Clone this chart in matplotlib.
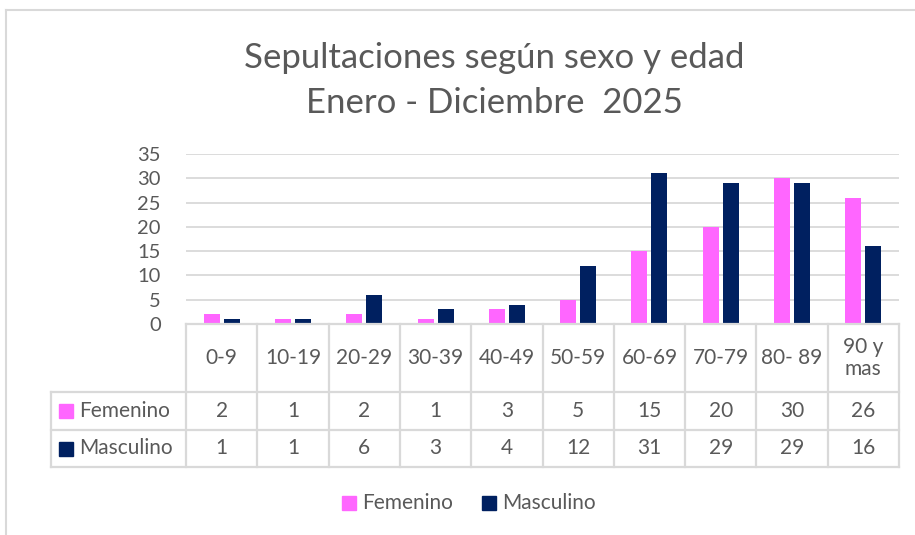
import matplotlib
matplotlib.use("Agg")
import matplotlib.pyplot as plt
from matplotlib.lines import Line2D
from matplotlib.patches import Rectangle

# datos
categorias = ["0-9", "10-19", "20-29", "30-39", "40-49", "50-59",
              "60-69", "70-79", "80- 89", "90 y\nmas"]
femenino = [2, 1, 2, 1, 3, 5, 15, 20, 30, 26]
masculino = [1, 1, 6, 3, 4, 12, 31, 29, 29, 16]
series = ["Femenino", "Masculino"]
colores = ["#FF66FF", "#002060"]
yticks = [0, 5, 10, 15, 20, 25, 30, 35]

W, H = 915, 535
TXT = "#595959"
GRIS = "#D9D9D9"
plt.rcParams['font.family'] = ['Lato', 'DejaVu Sans']

fig = plt.figure(figsize=(W / 100, H / 100), dpi=100)


def fx(x):
    return x / W


def fy(y):
    return 1 - y / H


# borde del grafico (solo arriba e izquierda visibles)
fig.add_artist(Line2D([fx(6), fx(915)], [fy(9.5), fy(9.5)], color=GRIS, lw=1.5))
fig.add_artist(Line2D([fx(6), fx(6)], [fy(9.5), fy(535)], color=GRIS, lw=1.5))

# titulo
fig.text(fx(494), fy(58), "Sepultaciones según sexo y edad", ha="center", va="center",
         fontsize=25, color=TXT)
fig.text(fx(494), fy(103), "Enero - Diciembre  2025", ha="center", va="center",
         fontsize=25, color=TXT)

# eje de barras
x0, x1, ytop, ybot = 186, 899, 154, 324
ax = fig.add_axes([fx(x0), fy(ybot), fx(x1 - x0), (ybot - ytop) / H])
n = len(categorias)
bw = 0.225
gap = 0.055
for i in range(n):
    c = i + 0.5
    ax.bar(c - (bw + gap) / 2, femenino[i], width=bw, color=colores[0], zorder=3)
    ax.bar(c + (bw + gap) / 2, masculino[i], width=bw, color=colores[1], zorder=3)
ax.set_xlim(0, n)
ax.set_ylim(0, 35)
ax.set_yticks(yticks)
ax.set_xticks([])
ax.grid(axis="y", color=GRIS, lw=1.3, zorder=0)
for s in ax.spines.values():
    s.set_visible(False)
ax.tick_params(axis="y", length=0, pad=18, labelsize=14.5, labelcolor=TXT)
for lab in ax.get_yticklabels():
    lab.set_ha("right")

# tabla de datos
tx0, tbot = 51, 467
lab_w = (x0 - tx0) / ((x1 - x0) / n)
tax = fig.add_axes([fx(tx0), fy(tbot), fx(x1 - tx0), (tbot - ybot) / H])
tax.set_xlim(-lab_w, n)
filas = [ybot, 392, 430, 467]
tax.set_ylim(tbot, ybot)
tax.axis("off")
lw = 1.6
# lineas horizontales
tax.plot([0, n], [filas[0], filas[0]], color=GRIS, lw=lw, clip_on=False)
for yy in filas[1:]:
    tax.plot([-lab_w, n], [yy, yy], color=GRIS, lw=lw, clip_on=False)
# lineas verticales
for i in range(n + 1):
    tax.plot([i, i], [filas[0], filas[-1]], color=GRIS, lw=lw, clip_on=False)
tax.plot([-lab_w, -lab_w], [filas[1], filas[-1]], color=GRIS, lw=lw, clip_on=False)

fs = 15
for i, cat in enumerate(categorias):
    tax.text(i + 0.5, (filas[0] + filas[1]) / 2, cat, ha="center", va="center",
             fontsize=fs, color=TXT, linespacing=1.1)
    tax.text(i + 0.5, (filas[1] + filas[2]) / 2, str(femenino[i]), ha="center",
             va="center", fontsize=fs, color=TXT)
    tax.text(i + 0.5, (filas[2] + filas[3]) / 2, str(masculino[i]), ha="center",
             va="center", fontsize=fs, color=TXT)

# etiquetas de fila con su marca de color
for k, nombre in enumerate(series):
    yc = (filas[k + 1] + filas[k + 2]) / 2
    fig.add_artist(Rectangle((fx(59), fy(yc + 7)), fx(14), 14 / H,
                             color=colores[k]))
    fig.text(fx(79), fy(yc), nombre, ha="left", va="center", fontsize=fs, color=TXT)

# leyenda
leg = [(342, series[0]), (482, series[1])]
for k, (lx, nombre) in enumerate(leg):
    fig.add_artist(Rectangle((fx(lx), fy(510)), fx(14), 14 / H, color=colores[k]))
    fig.text(fx(lx + 20), fy(503), nombre, ha="left", va="center", fontsize=fs, color=TXT)

fig.savefig("out.png", dpi=100)
